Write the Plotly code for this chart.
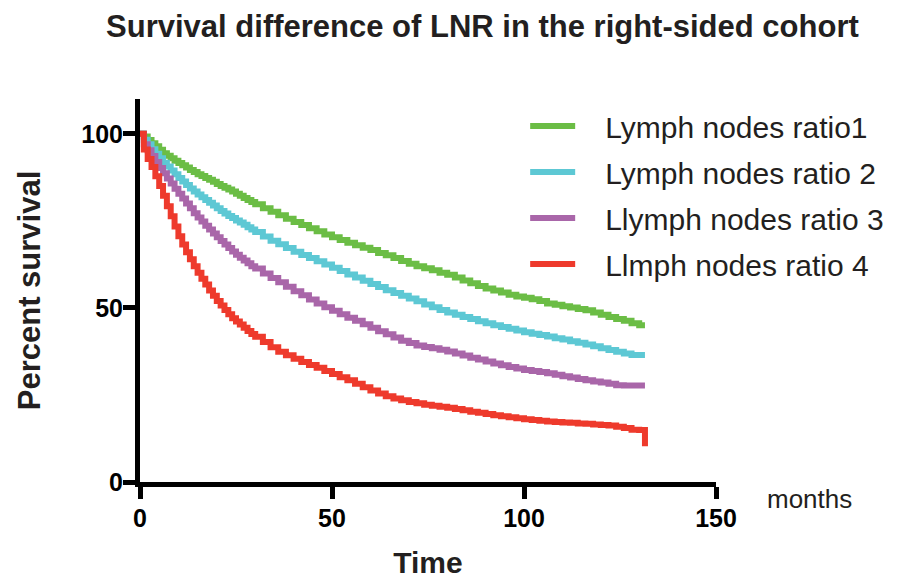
import plotly.graph_objects as go

# Time points (months) at which the Kaplan-Meier curves were read
months = [0, 1, 2, 3, 4, 5, 6, 7, 8, 9, 10, 11, 12, 13, 14, 15, 16, 17, 18, 19, 20,
          21, 22, 23, 24, 25, 26, 27, 28, 29, 30,
          32, 34, 36, 38, 40, 42, 44, 46, 48, 50, 52, 54, 56, 58, 60, 62, 64, 66, 68, 70,
          72, 74, 76, 78, 80, 82, 84, 86, 88, 90, 92, 94, 96, 98, 100, 102, 104, 106, 108, 110,
          112, 114, 116, 118, 120, 122, 124, 126, 128, 130,
          131.5]

lnr1 = [100, 99.2, 98.2, 97.3, 96.4, 95.4, 94.4, 93.7, 93.0, 92.3, 91.6, 91.0, 90.3, 89.6, 89.0,
        88.4, 87.9, 87.3, 86.8, 86.2, 85.6, 85.0, 84.5, 84.0, 83.4, 82.8, 82.2, 81.6, 81.0, 80.4, 79.8,
        78.6, 77.6, 76.6, 75.6, 74.7, 73.8, 72.9, 72.0, 71.1, 70.3, 69.5, 68.7, 68.0, 67.3, 66.6,
        65.8, 65.1, 64.3, 63.5, 62.7, 62.0, 61.4, 60.8, 60.1, 59.5, 58.7, 57.9, 57.1, 56.3, 55.6,
        55.0, 54.4, 53.8, 53.3, 52.9, 52.5, 52.0, 51.3, 50.9, 50.5, 50.1, 49.7, 49.3, 48.7, 48.0,
        47.4, 46.8, 46.3, 45.6, 45.0,
        45.0]
lnr2 = [100, 98.3, 97.0, 95.6, 94.3, 93.0, 91.7, 90.6, 89.5, 88.4, 87.3, 86.3, 85.3, 84.3, 83.4,
        82.6, 81.8, 81.0, 80.2, 79.4, 78.6, 77.8, 77.1, 76.4, 75.8, 75.1, 74.5, 73.9, 73.2, 72.5, 71.8,
        70.5, 69.3, 68.3, 67.2, 66.1, 65.2, 64.3, 63.4, 62.5, 61.5, 60.6, 59.6, 58.7, 57.8, 56.9,
        56.0, 55.1, 54.3, 53.5, 52.7, 51.9, 51.0, 50.2, 49.4, 48.7, 48.0, 47.4, 46.8, 46.2, 45.6,
        45.0, 44.5, 44.0, 43.5, 43.0, 42.6, 42.2, 41.8, 41.3, 40.9, 40.4, 40.0, 39.5, 39.0, 38.4,
        37.9, 37.4, 36.9, 36.5, 36.5,
        36.5]
lnr3 = [100, 97.0, 95.3, 93.6, 91.9, 90.2, 88.7, 87.2, 85.7, 84.2, 82.8, 81.4, 80.0, 78.6, 77.2,
        76.0, 74.8, 73.6, 72.5, 71.4, 70.3, 69.2, 68.2, 67.2, 66.2, 65.3, 64.4, 63.6, 62.8, 62.0, 61.3,
        59.9, 58.6, 57.4, 56.1, 54.8, 53.6, 52.4, 51.3, 50.2, 49.2, 48.2, 47.2, 46.3, 45.3, 44.3,
        43.3, 42.4, 41.5, 40.6, 39.9, 39.2, 38.8, 38.4, 38.0, 37.5, 36.9, 36.3, 35.7, 35.2, 34.6,
        34.0, 33.5, 33.0, 32.6, 32.2, 31.9, 31.6, 31.2, 30.8, 30.4, 30.0, 29.6, 29.2, 28.9, 28.6,
        28.2, 27.8, 27.7, 27.7, 27.7,
        27.7]
lnr4 = [100, 95.5, 92.8, 90.5, 87.8, 85.0, 82.2, 79.2, 76.3, 73.4, 70.6, 68.2, 66.0, 64.0, 62.0,
        60.1, 58.4, 56.7, 55.0, 53.5, 52.0, 50.7, 49.4, 48.2, 47.0, 46.1, 45.2, 44.3, 43.4, 42.5, 41.7,
        40.2, 38.7, 37.4, 36.4, 35.4, 34.5, 33.6, 32.8, 31.9, 31.0, 30.1, 29.2, 28.2, 27.2, 26.3,
        25.4, 24.6, 24.0, 23.5, 23.0, 22.6, 22.2, 21.9, 21.6, 21.3, 21.0, 20.6, 20.2, 19.9, 19.5,
        19.2, 18.9, 18.6, 18.3, 18.0, 17.8, 17.6, 17.4, 17.2, 17.1, 17.0, 16.8, 16.7, 16.5, 16.4,
        16.2, 15.9, 15.5, 15.0, 14.9,
        10.3]

series_names = ["Lymph nodes ratio1", "Lymph nodes ratio 2", "Llymph nodes ratio 3", "Llmph nodes ratio 4"]
series_values = [lnr1, lnr2, lnr3, lnr4]
series_colors = ["#6BBD45", "#5DC8D4", "#A966A9", "#EE3A2C"]

x_ticks = [0, 50, 100, 150]
y_ticks = [0, 50, 100]

FONT = "Liberation Sans, Arial, sans-serif"
TXT = "#231f20"
GAP = "\u00a0\u00a0\u00a0"

fig = go.Figure()
for i, (name, vals, col) in enumerate(zip(series_names, series_values, series_colors)):
    fig.add_trace(go.Scatter(
        x=months, y=vals, name=GAP + name, mode="lines",
        line=dict(color=col, width=6, shape="hv"),
        legendgroup=f"g{i}",
    ))

fig.update_layout(
    width=912, height=579,
    paper_bgcolor="white", plot_bgcolor="white",
    margin=dict(l=140, r=196, t=99, b=97, pad=0),
    title=dict(text="<b>Survival difference of LNR in the right-sided cohort</b>",
               font=dict(family=FONT, size=31, color=TXT),
               x=0.529, xref="container", xanchor="center",
               y=0.955, yref="container", yanchor="middle"),
    showlegend=True,
    legend=dict(x=0.6687, xanchor="left", y=0.9976, yanchor="top",
                font=dict(family=FONT, size=30, color=TXT),
                itemwidth=45, tracegroupgap=4, traceorder="grouped",
                bgcolor="rgba(0,0,0,0)"),
    xaxis=dict(range=[0, 150], tickvals=x_ticks, ticktext=[str(v) for v in x_ticks],
               showline=True, linecolor="black", linewidth=5, automargin=False,
               ticks="outside", ticklen=12, tickwidth=5, tickcolor="black",
               ticklabelstandoff=-2,
               showgrid=False, zeroline=False,
               tickfont=dict(family=FONT, size=25, color="black", weight="bold"),
               title=dict(text="<b>Time</b>", font=dict(family=FONT, size=30, color=TXT), standoff=22)),
    yaxis=dict(range=[0, 110], tickvals=y_ticks, ticktext=[str(v) for v in y_ticks],
               showline=True, linecolor="black", linewidth=5, automargin=False,
               ticks="outside", ticklen=12, tickwidth=5, tickcolor="black",
               ticklabelstandoff=-5,
               showgrid=False, zeroline=False,
               tickfont=dict(family=FONT, size=25, color="black", weight="bold"),
               title=dict(text="<b>Percent survival</b>", font=dict(family=FONT, size=31, color=TXT), standoff=33)),
)

fig.add_annotation(text="months", xref="paper", yref="paper", x=1.163, y=-0.045,
                   xanchor="center", yanchor="middle", showarrow=False,
                   font=dict(family=FONT, size=26, color=TXT))

fig.write_html("out.html", config={"displayModeBar": False},
               post_script="document.body.style.margin='0px';document.body.style.overflow='hidden';")
